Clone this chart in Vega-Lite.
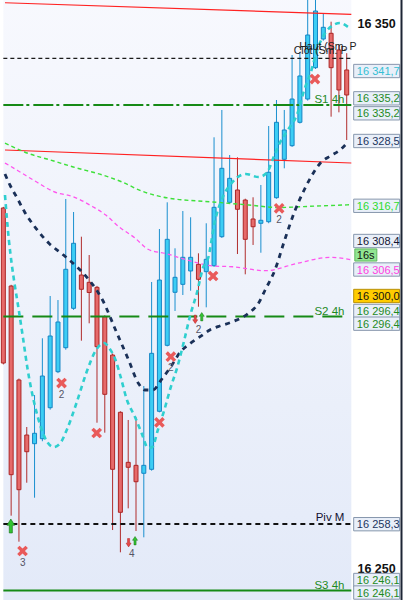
{
  "$schema": "https://vega.github.io/schema/vega-lite/v6.json",
  "width": 408,
  "height": 600,
  "padding": 0,
  "autosize": {"type": "none"},
  "background": "#ffffff",
  "config": {"view": {"stroke": null}, "font": "Liberation Sans"},
  "datasets": {
    "candles": [
      {"k": -1, "o": 16316.3, "h": 16316.5, "l": 16287.6, "c": 16287.85},
      {"k": 0, "o": 16301.98, "h": 16302.2, "l": 16259.84, "c": 16267.36},
      {"k": 1, "o": 16284.74, "h": 16285.0, "l": 16255.07, "c": 16264.61},
      {"k": 2, "o": 16274.64, "h": 16276.11, "l": 16265.89, "c": 16271.58},
      {"k": 3, "o": 16273.05, "h": 16281.98, "l": 16263.14, "c": 16274.96},
      {"k": 4, "o": 16273.96, "h": 16292.39, "l": 16273.5, "c": 16285.47},
      {"k": 5, "o": 16279.65, "h": 16300.15, "l": 16279.3, "c": 16292.81},
      {"k": 6, "o": 16286.26, "h": 16299.41, "l": 16286.0, "c": 16295.38},
      {"k": 7, "o": 16290.66, "h": 16317.95, "l": 16290.3, "c": 16305.05},
      {"k": 8, "o": 16297.89, "h": 16315.56, "l": 16297.6, "c": 16309.82},
      {"k": 9, "o": 16304.0, "h": 16311.03, "l": 16291.95, "c": 16301.38},
      {"k": 10, "o": 16302.66, "h": 16307.67, "l": 16295.14, "c": 16300.79},
      {"k": 11, "o": 16301.74, "h": 16302.0, "l": 16276.9, "c": 16290.85},
      {"k": 12, "o": 16296.35, "h": 16296.6, "l": 16275.07, "c": 16282.11},
      {"k": 13, "o": 16289.32, "h": 16289.6, "l": 16257.21, "c": 16268.35},
      {"k": 14, "o": 16278.81, "h": 16279.0, "l": 16253.12, "c": 16260.46},
      {"k": 15, "o": 16269.63, "h": 16277.4, "l": 16261.19, "c": 16268.72},
      {"k": 16, "o": 16269.08, "h": 16277.89, "l": 16257.03, "c": 16266.07},
      {"k": 17, "o": 16267.62, "h": 16283.63, "l": 16255.87, "c": 16269.08},
      {"k": 18, "o": 16268.35, "h": 16302.72, "l": 16268.1, "c": 16289.63},
      {"k": 19, "o": 16278.99, "h": 16312.44, "l": 16278.8, "c": 16303.08},
      {"k": 20, "o": 16291.1, "h": 16317.34, "l": 16290.9, "c": 16310.55},
      {"k": 21, "o": 16300.83, "h": 16308.9, "l": 16297.4, "c": 16303.58},
      {"k": 22, "o": 16302.29, "h": 16315.74, "l": 16300.33, "c": 16307.25},
      {"k": 23, "o": 16304.74, "h": 16314.59, "l": 16301.12, "c": 16307.25},
      {"k": 24, "o": 16305.96, "h": 16307.98, "l": 16298.18, "c": 16303.21},
      {"k": 25, "o": 16304.61, "h": 16313.49, "l": 16298.07, "c": 16306.88},
      {"k": 26, "o": 16305.71, "h": 16329.27, "l": 16305.5, "c": 16316.42},
      {"k": 27, "o": 16311.03, "h": 16334.28, "l": 16310.8, "c": 16323.58},
      {"k": 28, "o": 16317.34, "h": 16326.02, "l": 16317.1, "c": 16321.74},
      {"k": 29, "o": 16319.6, "h": 16325.6, "l": 16307.85, "c": 16316.06},
      {"k": 30, "o": 16317.76, "h": 16318.0, "l": 16304.13, "c": 16310.55},
      {"k": 31, "o": 16314.28, "h": 16318.26, "l": 16309.51, "c": 16312.86},
      {"k": 32, "o": 16313.49, "h": 16320.52, "l": 16308.09, "c": 16314.04},
      {"k": 33, "o": 16313.78, "h": 16331.34, "l": 16313.5, "c": 16322.85},
      {"k": 34, "o": 16318.18, "h": 16336.11, "l": 16318.0, "c": 16332.02},
      {"k": 35, "o": 16325.23, "h": 16334.28, "l": 16323.58, "c": 16330.61},
      {"k": 36, "o": 16327.73, "h": 16344.37, "l": 16327.5, "c": 16336.29},
      {"k": 37, "o": 16332.02, "h": 16344.92, "l": 16331.8, "c": 16340.52},
      {"k": 38, "o": 16336.29, "h": 16356, "l": 16336.0, "c": 16348.04},
      {"k": 39, "o": 16342.04, "h": 16356, "l": 16341.8, "c": 16352.44},
      {"k": 40, "o": 16347.3, "h": 16351.89, "l": 16347.0, "c": 16349.45},
      {"k": 41, "o": 16348.35, "h": 16350.48, "l": 16333.05, "c": 16342.04},
      {"k": 42, "o": 16345.29, "h": 16346.2, "l": 16333.85, "c": 16337.95},
      {"k": 43, "o": 16341.62, "h": 16344.7, "l": 16328.77, "c": 16337.03}
    ],
    "navy": [
      {"k": -0.79, "p": 16322.53}, {"k": -0.16, "p": 16320.52}, {"k": 0.68, "p": 16318.37},
      {"k": 1.71, "p": 16315.62}, {"k": 3.18, "p": 16312.57}, {"k": 4.84, "p": 16309.82},
      {"k": 6.71, "p": 16307.67}, {"k": 9.63, "p": 16303.69}, {"k": 11.09, "p": 16300.94},
      {"k": 11.71, "p": 16299.41}, {"k": 13.38, "p": 16293.91}, {"k": 15.05, "p": 16288.4},
      {"k": 16.3, "p": 16284.13}, {"k": 17.13, "p": 16282.9}, {"k": 18.18, "p": 16282.9},
      {"k": 19.21, "p": 16284.73}, {"k": 20.46, "p": 16287.17}, {"k": 21.71, "p": 16289.93},
      {"k": 22.96, "p": 16291.47}, {"k": 24.21, "p": 16292.68}, {"k": 25.46, "p": 16293.91},
      {"k": 26.5, "p": 16294.52}, {"k": 28.38, "p": 16295.43}, {"k": 30.46, "p": 16297.03},
      {"k": 31.71, "p": 16298.86}, {"k": 32.55, "p": 16301.25}, {"k": 33.8, "p": 16304.92},
      {"k": 35.05, "p": 16310.42}, {"k": 36.3, "p": 16315.56}, {"k": 37.55, "p": 16319.6},
      {"k": 38.8, "p": 16322.9}, {"k": 39.63, "p": 16324.55}, {"k": 40.88, "p": 16325.84},
      {"k": 42.13, "p": 16326.94}, {"k": 43.18, "p": 16328.41}
    ],
    "cyan": [
      {"k": -0.79, "p": 16318.68}, {"k": -0.29, "p": 16310.42}, {"k": 0.09, "p": 16305.84},
      {"k": 0.46, "p": 16302.17}, {"k": 0.875, "p": 16298.5}, {"k": 1.5, "p": 16292.63},
      {"k": 2.125, "p": 16286.57}, {"k": 2.96, "p": 16280.52}, {"k": 3.8, "p": 16276.11},
      {"k": 4.625, "p": 16273.36}, {"k": 5.46, "p": 16272.44}, {"k": 6.3, "p": 16273.17},
      {"k": 7.125, "p": 16275.56}, {"k": 8.375, "p": 16280.52}, {"k": 9.625, "p": 16286.02},
      {"k": 10.875, "p": 16290.24}, {"k": 11.925, "p": 16291.53}, {"k": 12.55, "p": 16290.61},
      {"k": 13.375, "p": 16288.41}, {"k": 14.0, "p": 16285.47}, {"k": 14.84, "p": 16281.07},
      {"k": 15.875, "p": 16277.95}, {"k": 16.71, "p": 16275.01}, {"k": 17.55, "p": 16272.26},
      {"k": 18.09, "p": 16272.44}, {"k": 18.8, "p": 16275.56}, {"k": 19.625, "p": 16279.23},
      {"k": 20.46, "p": 16283.45}, {"k": 21.3, "p": 16287.12}, {"k": 22.125, "p": 16291.71},
      {"k": 22.96, "p": 16296.66}, {"k": 23.8, "p": 16300.7}, {"k": 24.625, "p": 16305.47},
      {"k": 25.25, "p": 16307.12}, {"k": 26.09, "p": 16313.73}, {"k": 27.125, "p": 16318.31},
      {"k": 28.375, "p": 16321.07}, {"k": 30.05, "p": 16322.53}, {"k": 31.71, "p": 16321.98},
      {"k": 32.75, "p": 16322.72}, {"k": 33.59, "p": 16325.47}, {"k": 34.425, "p": 16328.22},
      {"k": 35.46, "p": 16330.61}, {"k": 36.71, "p": 16333.73}, {"k": 37.55, "p": 16337.95},
      {"k": 38.375, "p": 16341.07}, {"k": 39.21, "p": 16345.29}, {"k": 40.25, "p": 16348.41},
      {"k": 41.3, "p": 16349.87}, {"k": 42.125, "p": 16350.24}, {"k": 43.175, "p": 16349.51}
    ],
    "green": [
      {"k": -0.79, "p": 16328.22}, {"k": 1.71, "p": 16326.57}, {"k": 5.46, "p": 16324.92},
      {"k": 7.96, "p": 16323.82}, {"k": 11.71, "p": 16322.35}, {"k": 14.21, "p": 16321.07},
      {"k": 16.71, "p": 16319.41}, {"k": 20.09, "p": 16318.13}, {"k": 25.84, "p": 16317.4},
      {"k": 30.46, "p": 16316.85}, {"k": 34.21, "p": 16316.39}, {"k": 39.21, "p": 16316.66},
      {"k": 43.59, "p": 16316.9}
    ],
    "magenta": [
      {"k": -0.79, "p": 16324.55}, {"k": 0.875, "p": 16323.14}, {"k": 3.375, "p": 16320.97},
      {"k": 5.46, "p": 16319.29}, {"k": 7.96, "p": 16318.37}, {"k": 10.46, "p": 16316.53},
      {"k": 12.125, "p": 16315.01}, {"k": 13.8, "p": 16312.86}, {"k": 15.875, "p": 16310.79},
      {"k": 17.55, "p": 16308.72}, {"k": 20.05, "p": 16307.85}, {"k": 22.55, "p": 16306.75},
      {"k": 25.875, "p": 16305.65}, {"k": 28.375, "p": 16305.52}, {"k": 32.55, "p": 16304.79},
      {"k": 36.71, "p": 16306.15}, {"k": 40.875, "p": 16307.25}, {"k": 43.59, "p": 16306.8}
    ],
    "trend": [
      {"line": "a", "k": -0.79, "p": 16353.96}, {"line": "a", "k": 43.59, "p": 16351.84},
      {"line": "b", "k": -0.79, "p": 16326.94}, {"line": "b", "k": 43.59, "p": 16324.55}
    ],
    "boxesUnder": [
      {"t": "16 296,4", "p": 16297.4, "kind": "green"},
      {"t": "16 246,1", "p": 16248.04, "kind": "green"}
    ],
    "boxesOver": [
      {"t": "16 341,7", "p": 16341.43, "kind": "cyan"},
      {"t": "16 335,2", "p": 16336.42, "kind": "green"},
      {"t": "16 335,2", "p": 16333.67, "kind": "green"},
      {"t": "16 328,5", "p": 16328.59, "kind": "navy"},
      {"t": "16 316,7", "p": 16316.7, "kind": "lime"},
      {"t": "16 308,4", "p": 16310.24, "kind": "dark"},
      {"t": "16 306,5", "p": 16305.01, "kind": "magenta"},
      {"t": "16 300,0", "p": 16300.15, "kind": "yellow"},
      {"t": "16 296,4", "p": 16295.07, "kind": "green"},
      {"t": "16 258,3", "p": 16258.28, "kind": "navy"},
      {"t": "16 246,1", "p": 16245.74, "kind": "green"}
    ]
  },
  "layer": [
    {
      "data": {"values": [{"a": 1}]},
      "mark": {"type": "rect", "clip": true, "color": {"gradient": "linear", "x1": 0, "y1": 0, "x2": 0, "y2": 1, "stops": [{"offset": 0, "color": "#f8f9fe"}, {"offset": 0.5, "color": "#eef2fb"}, {"offset": 1, "color": "#e2e9f8"}]}},
      "encoding": {
        "x": {"datum": -1, "type": "quantitative", "scale": {"domain": [-0.7875, 50.2125], "nice": false, "zero": false}, "axis": null},
        "x2": {"datum": 43.59},
        "y": {"datum": 16240, "type": "quantitative", "title": null,
          "scale": {"domain": [16244.37, 16354.46], "nice": false, "zero": false},
          "axis": {"orient": "right", "offset": -53, "title": null, "grid": false,
            "values": [16250, 16260, 16270, 16280, 16290, 16300, 16310, 16320, 16330, 16340, 16350],
            "labelExpr": "datum.value % 50 === 0 ? '' : replace(format(datum.value, ','), ',', ' ')",
            "tickSize": 5, "tickColor": "#333333", "domainColor": "#8c9bb0",
            "labelPadding": 2, "labelColor": "#111111", "labelFont": "Liberation Sans",
            "labelFontSize": 11.5,
            "labelBaseline": "middle", "labelAlign": "left", "labelOverlap": false, "labelBound": false, "labelFlush": false}},
        "y2": {"datum": 16360}
      }
    },
    {
      "data": {"values": [{"t": "16 350", "p": 16350}, {"t": "16 250", "p": 16250}]},
      "mark": {"type": "text", "fontSize": 12.5, "fontWeight": "bold", "align": "left", "baseline": "middle", "font": "Liberation Sans", "color": "#111111"},
      "encoding": {"x": {"datum": 44.38, "type": "quantitative", "axis": null}, "y": {"field": "p", "type": "quantitative", "axis": null}, "text": {"field": "t"}}
    },
    {
      "data": {"name": "candles"},
      "mark": {"type": "rule", "clip": true, "strokeWidth": 1},
      "encoding": {
        "x": {"field": "k", "type": "quantitative", "axis": null},
        "y": {"field": "l", "type": "quantitative", "axis": null},
        "y2": {"field": "h"},
        "color": {"condition": {"test": "datum.c >= datum.o", "value": "#1a8fcf"}, "value": "#b02c2c"}
      }
    },
    {
      "data": {"name": "candles"},
      "mark": {"type": "bar", "clip": true, "size": 4, "strokeWidth": 1},
      "encoding": {
        "x": {"field": "k", "type": "quantitative", "axis": null},
        "y": {"field": "o", "type": "quantitative", "axis": null},
        "y2": {"field": "c"},
        "fill": {"condition": {"test": "datum.c >= datum.o", "value": "#3ccdf4"}, "value": "#e66a6a"},
        "stroke": {"condition": {"test": "datum.c >= datum.o", "value": "#1585c4"}, "value": "#ad2626"}
      }
    },
    {
      "data": {"values": [{"p": 16343.76}]},
      "mark": {"type": "rule", "clip": true, "color": "#1a1a1a", "strokeWidth": 1.2, "strokeDash": [4, 3]},
      "encoding": {"x": {"datum": -1, "type": "quantitative", "axis": null}, "x2": {"datum": 43.59}, "y": {"field": "p", "type": "quantitative", "axis": null}}
    },
    {
      "data": {"values": [{"p": 16335.2}]},
      "mark": {"type": "rule", "clip": true, "color": "#168a16", "strokeWidth": 2, "strokeDash": [20, 3, 3, 4]},
      "encoding": {"x": {"datum": -1, "type": "quantitative", "axis": null}, "x2": {"datum": 43.59}, "y": {"field": "p", "type": "quantitative", "axis": null}}
    },
    {
      "data": {"values": [{"p": 16296.4}]},
      "mark": {"type": "rule", "clip": true, "color": "#168a16", "strokeWidth": 2, "strokeDash": [20, 9]},
      "encoding": {"x": {"datum": -1, "type": "quantitative", "axis": null}, "x2": {"datum": 43.59}, "y": {"field": "p", "type": "quantitative", "axis": null}}
    },
    {
      "data": {"values": [{"p": 16258.3}]},
      "mark": {"type": "rule", "clip": true, "color": "#111111", "strokeWidth": 2, "strokeDash": [5, 4]},
      "encoding": {"x": {"datum": -1, "type": "quantitative", "axis": null}, "x2": {"datum": 43.59}, "y": {"field": "p", "type": "quantitative", "axis": null}}
    },
    {
      "data": {"values": [{"p": 16246.1}]},
      "mark": {"type": "rule", "clip": true, "color": "#168a16", "strokeWidth": 2},
      "encoding": {"x": {"datum": -1, "type": "quantitative", "axis": null}, "x2": {"datum": 43.59}, "y": {"field": "p", "type": "quantitative", "axis": null}}
    },
    {
      "data": {"name": "trend"},
      "mark": {"type": "line", "clip": true, "color": "#ff2222", "strokeWidth": 1.2},
      "encoding": {"x": {"field": "k", "type": "quantitative", "axis": null}, "y": {"field": "p", "type": "quantitative", "axis": null}, "detail": {"field": "line"}}
    },
    {
      "data": {"name": "magenta"},
      "mark": {"type": "line", "clip": true, "color": "#ff55ee", "strokeWidth": 1.3, "strokeDash": [4, 3], "interpolate": "monotone"},
      "encoding": {"x": {"field": "k", "type": "quantitative", "axis": null}, "y": {"field": "p", "type": "quantitative", "axis": null}}
    },
    {
      "data": {"name": "green"},
      "mark": {"type": "line", "clip": true, "color": "#3ee03a", "strokeWidth": 1.4, "strokeDash": [4, 3], "interpolate": "monotone"},
      "encoding": {"x": {"field": "k", "type": "quantitative", "axis": null}, "y": {"field": "p", "type": "quantitative", "axis": null}}
    },
    {
      "data": {"name": "navy"},
      "mark": {"type": "line", "clip": true, "color": "#1a3058", "strokeWidth": 2.8, "strokeDash": [5, 5], "interpolate": "monotone"},
      "encoding": {"x": {"field": "k", "type": "quantitative", "axis": null}, "y": {"field": "p", "type": "quantitative", "axis": null}}
    },
    {
      "data": {"name": "cyan"},
      "mark": {"type": "line", "clip": true, "color": "#2fcfcf", "strokeWidth": 2.6, "strokeDash": [5, 4], "interpolate": "monotone"},
      "encoding": {"x": {"field": "k", "type": "quantitative", "axis": null}, "y": {"field": "p", "type": "quantitative", "axis": null}}
    },
    {
      "data": {"values": [
        {"k": 1.46, "p": 16253.36}, {"k": 6.46, "p": 16284.18}, {"k": 10.96, "p": 16275.01},
        {"k": 19.0, "p": 16276.97}, {"k": 20.46, "p": 16289.01}, {"k": 25.875, "p": 16303.82},
        {"k": 34.34, "p": 16316.24}, {"k": 38.925, "p": 16339.96}
      ]},
      "mark": {"type": "point", "clip": true, "filled": true, "opacity": 1, "size": 115, "color": "#e95a5a",
        "shape": "M-1,-0.55L-0.55,-1L0,-0.45L0.55,-1L1,-0.55L0.45,0L1,0.55L0.55,1L0,0.45L-0.55,1L-1,0.55L-0.45,0Z"},
      "encoding": {"x": {"field": "k", "type": "quantitative", "axis": null}, "y": {"field": "p", "type": "quantitative", "axis": null}}
    },
    {
      "data": {"values": [{"k": -0.04, "p": 16257.95}]},
      "mark": {"type": "point", "clip": true, "filled": true, "opacity": 1, "size": 196, "fill": "#33c433", "stroke": "#167016", "strokeWidth": 0.6,
        "shape": "M0,-1L0.55,-0.1L0.22,-0.1L0.22,1L-0.22,1L-0.22,-0.1L-0.55,-0.1Z"},
      "encoding": {"x": {"field": "k", "type": "quantitative", "axis": null}, "y": {"field": "p", "type": "quantitative", "axis": null}}
    },
    {
      "data": {"values": [{"k": 15.875, "p": 16255.25}, {"k": 24.425, "p": 16296.35}]},
      "mark": {"type": "point", "clip": true, "filled": true, "opacity": 1, "size": 70, "fill": "#33c433", "stroke": "#167016", "strokeWidth": 0.5,
        "shape": "M0,-1L0.6,-0.1L0.25,-0.1L0.25,1L-0.25,1L-0.25,-0.1L-0.6,-0.1Z"},
      "encoding": {"x": {"field": "k", "type": "quantitative", "axis": null}, "y": {"field": "p", "type": "quantitative", "axis": null}}
    },
    {
      "data": {"values": [{"k": 15.05, "p": 16254.88}, {"k": 23.59, "p": 16295.87}]},
      "mark": {"type": "point", "clip": true, "filled": true, "opacity": 1, "size": 70, "fill": "#e84848", "stroke": "#b02020", "strokeWidth": 0.5,
        "shape": "M0,1L0.6,0.1L0.25,0.1L0.25,-1L-0.25,-1L-0.25,0.1L-0.6,0.1Z"},
      "encoding": {"x": {"field": "k", "type": "quantitative", "axis": null}, "y": {"field": "p", "type": "quantitative", "axis": null}}
    },
    {
      "data": {"values": [
        {"t": "3", "k": 1.5, "p": 16251.1}, {"t": "2", "k": 6.46, "p": 16281.98},
        {"t": "4", "k": 15.46, "p": 16252.81}, {"t": "2", "k": 20.46, "p": 16286.94},
        {"t": "2", "k": 24.0, "p": 16293.91}, {"t": "2", "k": 34.34, "p": 16314.09}
      ]},
      "mark": {"type": "text", "fontSize": 10, "color": "#555566", "align": "center", "baseline": "middle", "font": "Liberation Sans"},
      "encoding": {"x": {"field": "k", "type": "quantitative", "axis": null}, "y": {"field": "p", "type": "quantitative", "axis": null}, "text": {"field": "t"}}
    },
    {
      "data": {"values": [
        {"t": "S1 4h", "p": 16336.29, "kind": "green"},
        {"t": "S2 4h", "p": 16297.4, "kind": "green"},
        {"t": "Piv M", "p": 16259.65, "kind": "dark"},
        {"t": "S3 4h", "p": 16247.21, "kind": "green"}
      ]},
      "mark": {"type": "text", "fontSize": 11.5, "align": "right", "baseline": "middle", "font": "Liberation Sans", "dy": 1},
      "encoding": {
        "x": {"datum": 42.71, "type": "quantitative", "axis": null},
        "y": {"field": "p", "type": "quantitative", "axis": null},
        "text": {"field": "t"},
        "color": {"field": "kind", "type": "nominal", "legend": null,
          "scale": {"domain": ["cyan", "green", "navy", "lime", "dark", "magenta", "yellow"],
                    "range": ["#35bfd4", "#1f8a1f", "#1c355e", "#2edb2e", "#141432", "#ff3fe0", "#111111"]}}
      }
    },
    {
      "data": {"values": [
        {"t": "Clôt (Sm. P", "k": 36.21, "p": 16345.1},
        {"t": "Haut (Sm. P", "k": 36.92, "p": 16345.84}
      ]},
      "mark": {"type": "text", "fontSize": 10.5, "align": "left", "baseline": "middle", "font": "Liberation Sans", "color": "#222222"},
      "encoding": {"x": {"field": "k", "type": "quantitative", "axis": null}, "y": {"field": "p", "type": "quantitative", "axis": null}, "text": {"field": "t"}}
    },
    {
      "data": {"name": "boxesUnder"},
      "mark": {"type": "point", "filled": true, "opacity": 1, "size": 2116, "strokeWidth": 1, "shape": "M-1,-0.29H1V0.29H-1Z"},
      "encoding": {
        "x": {"datum": 46.84, "type": "quantitative", "axis": null},
        "y": {"field": "p", "type": "quantitative", "axis": null},
        "fill": {"condition": {"test": "datum.kind === 'yellow'", "value": "#ffcc00"}, "value": "#e9eff9"},
        "stroke": {"condition": {"test": "datum.kind === 'yellow'", "value": "#b8900a"}, "value": "#8797ad"}
      }
    },
    {
      "data": {"name": "boxesUnder"},
      "mark": {"type": "text", "fontSize": 11, "align": "left", "baseline": "middle", "font": "Liberation Sans", "dy": 1},
      "encoding": {
        "x": {"datum": 44.3, "type": "quantitative", "axis": null},
        "y": {"field": "p", "type": "quantitative", "axis": null},
        "text": {"field": "t"},
        "color": {"field": "kind", "type": "nominal", "legend": null}
      }
    },
    {
      "data": {"name": "boxesOver"},
      "mark": {"type": "point", "filled": true, "opacity": 1, "size": 2116, "strokeWidth": 1, "shape": "M-1,-0.29H1V0.29H-1Z"},
      "encoding": {
        "x": {"datum": 46.84, "type": "quantitative", "axis": null},
        "y": {"field": "p", "type": "quantitative", "axis": null},
        "fill": {"condition": {"test": "datum.kind === 'yellow'", "value": "#ffcc00"}, "value": "#e9eff9"},
        "stroke": {"condition": {"test": "datum.kind === 'yellow'", "value": "#b8900a"}, "value": "#8797ad"}
      }
    },
    {
      "data": {"name": "boxesOver"},
      "mark": {"type": "text", "fontSize": 11, "align": "left", "baseline": "middle", "font": "Liberation Sans", "dy": 1},
      "encoding": {
        "x": {"datum": 44.3, "type": "quantitative", "axis": null},
        "y": {"field": "p", "type": "quantitative", "axis": null},
        "text": {"field": "t"},
        "color": {"field": "kind", "type": "nominal", "legend": null}
      }
    },
    {
      "data": {"values": [{"t": "16s", "p": 16307.67}]},
      "mark": {"type": "point", "filled": true, "opacity": 1, "size": 484, "strokeWidth": 1, "fill": "#92e592", "stroke": "#5db85d", "shape": "M-1,-0.55H1V0.55H-1Z"},
      "encoding": {"x": {"datum": 45.45, "type": "quantitative", "axis": null}, "y": {"field": "p", "type": "quantitative", "axis": null}}
    },
    {
      "data": {"values": [{"t": "16s", "p": 16307.67}]},
      "mark": {"type": "text", "fontSize": 11, "align": "left", "baseline": "middle", "font": "Liberation Sans", "dy": 1, "color": "#111111"},
      "encoding": {"x": {"datum": 44.3, "type": "quantitative", "axis": null}, "y": {"field": "p", "type": "quantitative", "axis": null}, "text": {"field": "t"}}
    },
    {
      "data": {"values": [{"a": 1}]},
      "mark": {"type": "rule", "color": "#1d2535", "strokeWidth": 2},
      "encoding": {"x": {"datum": 50.02, "type": "quantitative", "axis": null}}
    }
  ]
}
